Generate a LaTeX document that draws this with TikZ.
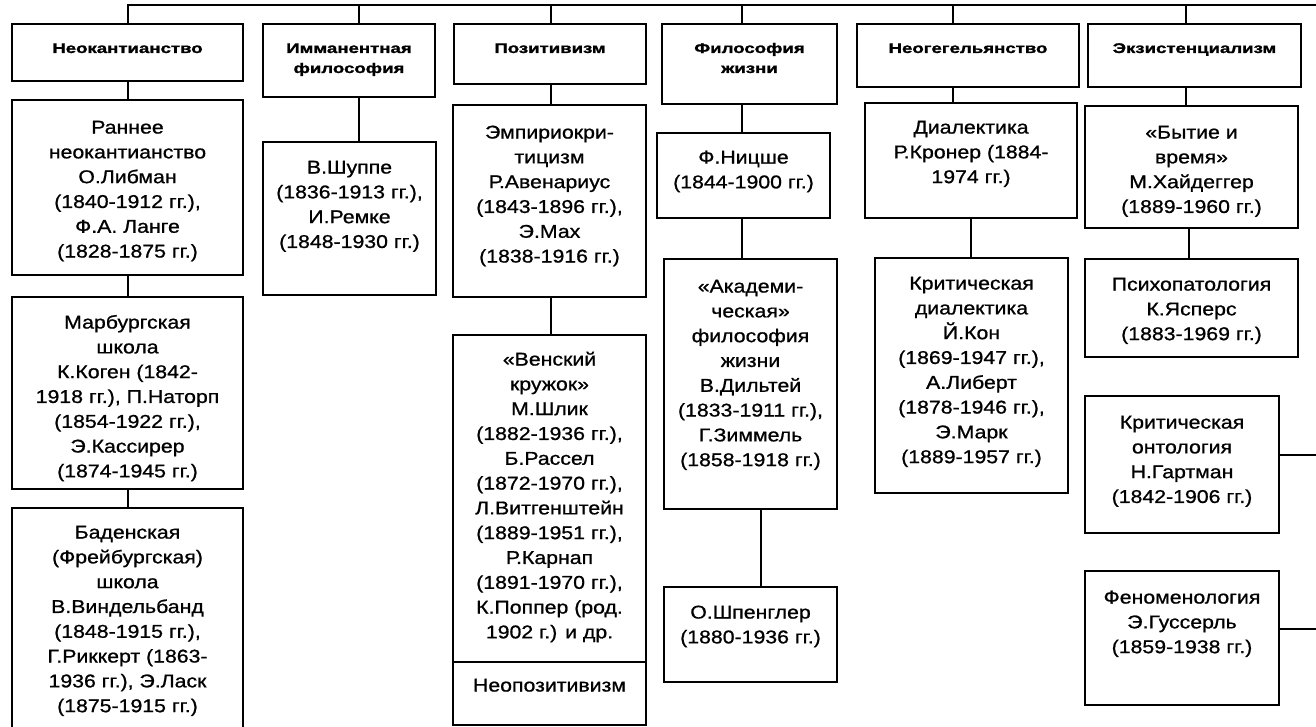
\documentclass[tikz,border=0pt]{standalone}
\usepackage{fontspec}
\setmainfont{Liberation Sans}
\newfontfamily\bodyfam[FakeStretch=1.15,FakeBold=0.9]{Liberation Sans}
\newfontfamily\hdrfam[FakeStretch=1.33,FakeBold=1.5]{Liberation Sans}
\newcommand\bodyfont{\bodyfam\fontsize{18.5pt}{24.8pt}\selectfont}
\newcommand\hdrfont{\hdrfam\bfseries\fontsize{14pt}{20pt}\selectfont}
\tikzset{
  boxstyle/.style={draw=black, line width=1.7pt, inner sep=0pt, outer sep=0pt, anchor=north west},
  link/.style={draw=black, line width=1.6pt}
}
% name, x1, y1, x2, y2, top skip, font, text
\newcommand\mkbox[8]{%
  \pgfmathsetmacro\bw{#4-#2}%
  \pgfmathsetmacro\bh{#5-#3}%
  \node[boxstyle] (#1) at (#2,#3) {\begin{minipage}[t][\bh pt][t]{\bw pt}\vspace*{#6pt}\centering#7\strut #8\par\end{minipage}};%
}
\begin{document}
\begin{tikzpicture}[x=1pt,y=-1pt]
\useasboundingbox (0,0) rectangle (1316,727);
\fill[white] (0,0) rectangle (1316,727);

% headers
\mkbox{h1}{12}{24}{243}{81}{15}{\hdrfont}{Неокантианство}
\mkbox{h2}{263}{24}{435}{97}{15}{\hdrfont}{Имманентная\\философия}
\mkbox{h3}{454}{24}{646}{84}{15}{\hdrfont}{Позитивизм}
\mkbox{h4}{662}{24}{837}{104}{15}{\hdrfont}{Философия\\жизни}
\mkbox{h5}{857}{24}{1079}{87}{15}{\hdrfont}{Неогегельянство}
\mkbox{h6}{1088}{24}{1301}{87}{15}{\hdrfont}{Экзистенциализм}

% column 1
\mkbox{c1a}{12}{100}{243}{275}{16.2}{\bodyfont}{Раннее\\неокантианство\\О.Либман\\(1840-1912 гг.),\\Ф.А. Ланге\\(1828-1875 гг.)}
\mkbox{c1b}{12}{297}{243}{489}{14.2}{\bodyfont}{Марбургская\\школа\\К.Коген (1842-\\1918 гг.), П.Наторп\\(1854-1922 гг.),\\Э.Кассирер\\(1874-1945 гг.)}
\mkbox{c1c}{12}{508}{243}{729}{13.2}{\bodyfont}{Баденская\\(Фрейбургская)\\школа\\В.Виндельбанд\\(1848-1915 гг.),\\Г.Риккерт (1863-\\1936 гг.), Э.Ласк\\(1875-1915 гг.)}

% column 2
\mkbox{c2a}{263}{142}{436}{295}{14.2}{\bodyfont}{В.Шуппе\\(1836-1913 гг.),\\И.Ремке\\(1848-1930 гг.)}

% column 3
\mkbox{c3a}{453}{105}{646}{297}{16.2}{\bodyfont}{Эмпириокри-\\тицизм\\Р.Авенариус\\(1843-1896 гг.),\\Э.Мах\\(1838-1916 гг.)}
\mkbox{c3b}{453}{335}{646}{662}{13.2}{\bodyfont}{«Венский\\кружок»\\М.Шлик\\(1882-1936 гг.),\\Б.Рассел\\(1872-1970 гг.),\\Л.Витгенштейн\\(1889-1951 гг.),\\Р.Карнап\\(1891-1970 гг.),\\К.Поппер (род.\\1902 г.) и др.}
\mkbox{c3c}{453}{662}{646}{725}{12.2}{\bodyfont}{Неопозитивизм}

% column 4
\mkbox{c4a}{657}{133}{830}{218}{13.2}{\bodyfont}{Ф.Ницше\\(1844-1900 гг.)}
\mkbox{c4b}{664}{259}{837}{509}{16.2}{\bodyfont}{«Академи-\\ческая»\\философия\\жизни\\В.Дильтей\\(1833-1911 гг.),\\Г.Зиммель\\(1858-1918 гг.)}
\mkbox{c4c}{664}{587}{837}{682}{14.2}{\bodyfont}{О.Шпенглер\\(1880-1936 гг.)}

% column 5
\mkbox{c5a}{865}{103}{1077}{218}{13.2}{\bodyfont}{Диалектика\\Р.Кронер (1884-\\1974 гг.)}
\mkbox{c5b}{875}{258}{1068}{493}{14.2}{\bodyfont}{Критическая\\диалектика\\Й.Кон\\(1869-1947 гг.),\\А.Либерт\\(1878-1946 гг.),\\Э.Марк\\(1889-1957 гг.)}

% column 6
\mkbox{c6a}{1085}{106}{1298}{228}{15.2}{\bodyfont}{«Бытие и\\время»\\М.Хайдеггер\\(1889-1960 гг.)}
\mkbox{c6b}{1085}{259}{1298}{357}{14.2}{\bodyfont}{Психопатология\\К.Ясперс\\(1883-1969 гг.)}
\mkbox{c6c}{1085}{396}{1279}{533}{15.2}{\bodyfont}{Критическая\\онтология\\Н.Гартман\\(1842-1906 гг.)}
\mkbox{c6d}{1085}{571}{1279}{705}{15.2}{\bodyfont}{Феноменология\\Э.Гуссерль\\(1859-1938 гг.)}

% connector coordinates
\coordinate (k1) at (128,5);
\coordinate (k2) at (359,5);
\coordinate (k3) at (551,5);
\coordinate (k4) at (742,5);
\coordinate (k5) at (953,5);
\coordinate (k6) at (1186,5);
\coordinate (kend) at (1316,5);
\coordinate (m4) at (761,0);
\coordinate (m5) at (971,0);
\coordinate (m6) at (1189,0);
\coordinate (r1) at (1316,455);
\coordinate (r2) at (1316,629);

% top bar and drops
\draw[link] (h1.north -| k1) -- (k1) -- (kend);
\draw[link] (k2) -- (h2.north -| k2);
\draw[link] (k3) -- (h3.north -| k3);
\draw[link] (k4) -- (h4.north -| k4);
\draw[link] (k5) -- (h5.north -| k5);
\draw[link] (k6) -- (h6.north -| k6);

% column links
\draw[link] (h1.south -| k1) -- (c1a.north -| k1);
\draw[link] (c1a.south -| k1) -- (c1b.north -| k1);
\draw[link] (c1b.south -| k1) -- (c1c.north -| k1);
\draw[link] (h2.south -| k2) -- (c2a.north -| k2);
\draw[link] (h3.south -| k3) -- (c3a.north -| k3);
\draw[link] (c3a.south -| k3) -- (c3b.north -| k3);
\draw[link] (h4.south -| k4) -- (c4a.north -| k4);
\draw[link] (c4a.south -| k4) -- (c4b.north -| k4);
\draw[link] (c4b.south -| m4) -- (c4c.north -| m4);
\draw[link] (h5.south -| k5) -- (c5a.north -| k5);
\draw[link] (c5a.south -| m5) -- (c5b.north -| m5);
\draw[link] (h6.south -| k6) -- (c6a.north -| k6);
\draw[link] (c6a.south -| m6) -- (c6b.north -| m6);
\draw[link] (c6c.east |- r1) -- (r1);
\draw[link] (c6d.east |- r2) -- (r2);
\end{tikzpicture}
\end{document}
